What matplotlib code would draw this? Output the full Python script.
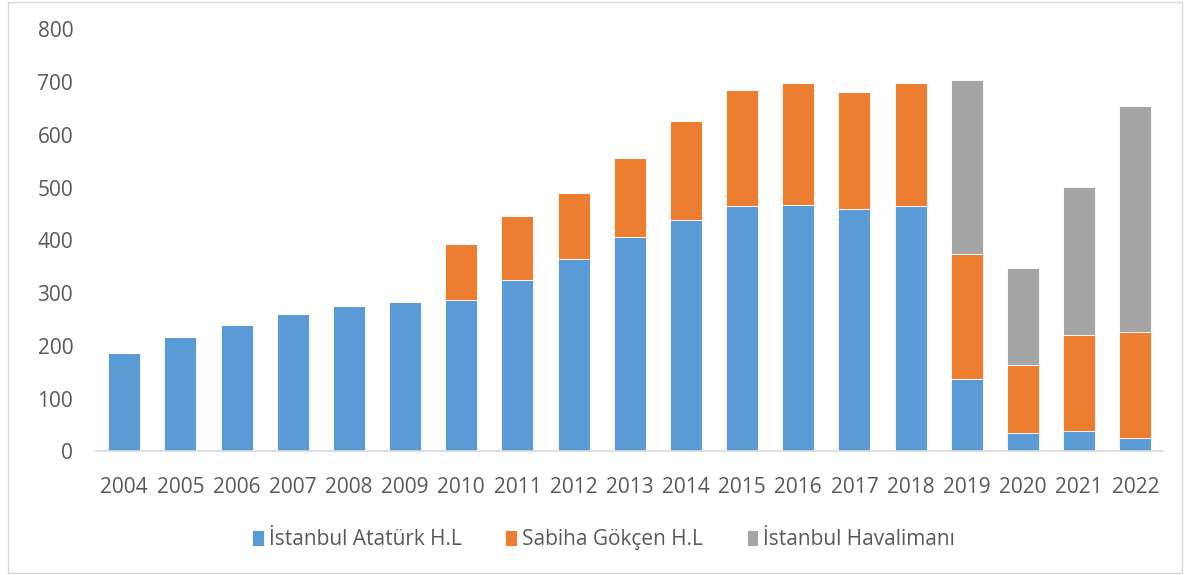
import matplotlib
matplotlib.use("Agg")
import matplotlib.pyplot as plt
import numpy as np
from matplotlib.patches import Rectangle

years = ["2004", "2005", "2006", "2007", "2008", "2009", "2010", "2011", "2012", "2013",
         "2014", "2015", "2016", "2017", "2018", "2019", "2020", "2021", "2022"]
ataturk = [187, 217, 240, 261, 276, 283, 287, 325, 364, 406,
           439, 465, 467, 460, 465, 137, 35, 38, 26]
sabiha = [0, 0, 0, 0, 0, 0, 106, 121, 126, 150,
          187, 220, 231, 221, 233, 237, 128, 183, 201]
istanbul = [0, 0, 0, 0, 0, 0, 0, 0, 0, 0,
            0, 0, 0, 0, 0, 330, 185, 280, 428]
series_names = ["İstanbul Atatürk H.L", "Sabiha Gökçen H.L", "İstanbul Havalimanı"]
colors = ["#5B9BD5", "#ED7D31", "#A5A5A5"]

plt.rcParams['font.family'] = ['Open Sans', 'DejaVu Sans']
text_color = "#595959"

fig = plt.figure(figsize=(11.86, 5.75), dpi=100)
ax = fig.add_axes([0.081, 0.2148, 0.900, 0.7342])

x = np.arange(len(years))
a = np.array(ataturk, dtype=float)
s = np.array(sabiha, dtype=float)
h = np.array(istanbul, dtype=float)
w = 0.57
ax.bar(x, a, w, color=colors[0], edgecolor="white", linewidth=0.6, label=series_names[0])
ax.bar(x, s, w, bottom=a, color=colors[1], edgecolor="white", linewidth=0.6, label=series_names[1])
ax.bar(x, h, w, bottom=a + s, color=colors[2], edgecolor="white", linewidth=0.6, label=series_names[2])

ax.set_xlim(-0.5, len(years) - 0.5)
ax.set_ylim(0, 800)
ax.set_yticks(range(0, 801, 100))
ax.set_xticks(x)
ax.set_xticklabels(years)
for sp in ["top", "right", "left"]:
    ax.spines[sp].set_visible(False)
ax.spines["bottom"].set_color("#D9D9D9")
ax.spines["bottom"].set_linewidth(1.2)
ax.tick_params(axis="both", length=0, labelsize=15, colors=text_color)
ax.tick_params(axis="y", pad=16.5)
ax.tick_params(axis="x", pad=18.5)

leg = fig.legend(loc="center", bbox_to_anchor=(0.509, 0.062), ncol=3, frameon=False,
                 fontsize=15, handlelength=0.55, handleheight=0.8, handletextpad=0.25,
                 columnspacing=2.1)
for t in leg.get_texts():
    t.set_color(text_color)

fig.patches.append(Rectangle((0.007, 0.003), 0.99, 0.994, transform=fig.transFigure,
                             fill=False, edgecolor="#D9D9D9", linewidth=1.0))

fig.savefig("out.png", dpi=100)
